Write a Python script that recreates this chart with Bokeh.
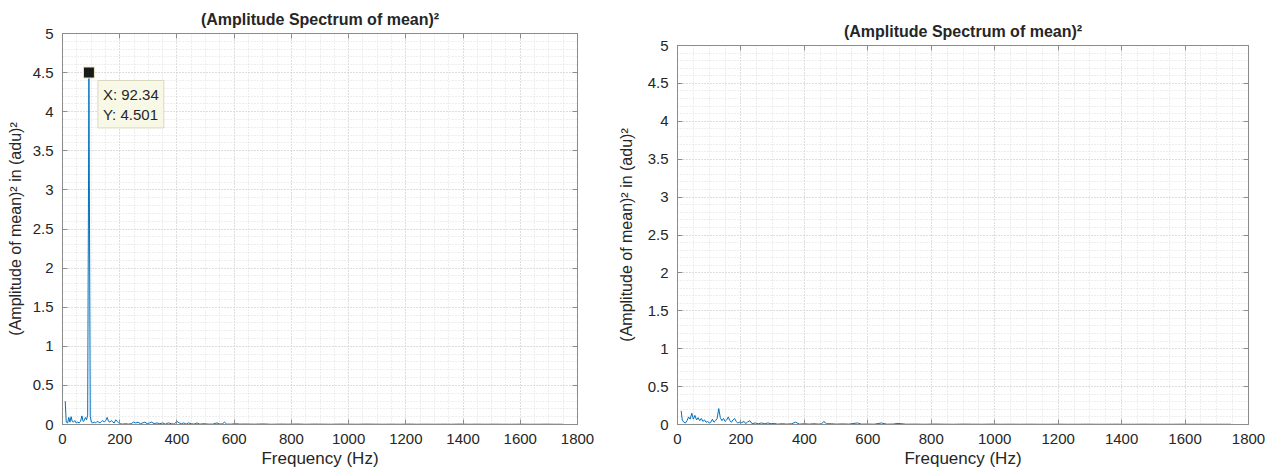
from bokeh.plotting import figure
from bokeh.layouts import row, column
from bokeh.models import (Range1d, SingleIntervalTicker, LinearAxis, Label,
                          CustomJSTickFormatter)
from bokeh.embed import file_html
from bokeh.resources import INLINE

# ---------------- data ----------------
title_text = "(Amplitude Spectrum of mean)\u00b2"
x_label = "Frequency (Hz)"
y_label = "(Amplitude of mean)\u00b2 in (adu)\u00b2"

left_freq = [9.4, 13, 18, 22, 26, 30, 34, 38, 43, 48, 53, 58, 63, 68, 72, 76, 80, 84, 88,
             92.34, 97, 101, 106, 111, 116, 121, 126, 131, 136, 141, 146, 151, 156, 161,
             166, 171, 176, 181, 186, 191, 196, 201, 210, 220, 230, 240, 248, 256, 264,
             272, 280, 288, 296, 304, 312, 320, 330, 340, 350, 360, 370, 380, 390, 400,
             408, 416, 424, 432, 440, 450, 460, 470, 480, 495, 510, 525, 540, 550, 560,
             566, 574, 590, 605, 620, 640, 670, 700, 730, 760, 790, 820, 850, 880, 910,
             940, 970, 1000, 1030, 1060, 1090, 1120, 1150, 1180, 1210, 1240, 1270, 1300,
             1330, 1360, 1390, 1420, 1450, 1480, 1510, 1540, 1570, 1600, 1630, 1660,
             1690, 1720, 1750]
left_amp = [0.30, 0.03, 0.02, 0.09, 0.03, 0.10, 0.04, 0.03, 0.05, 0.02, 0.03, 0.02, 0.04,
            0.11, 0.04, 0.05, 0.09, 0.06, 0.12,
            4.501, 0.10, 0.03, 0.02, 0.03, 0.02, 0.04, 0.03, 0.02, 0.04, 0.05, 0.03, 0.05,
            0.09, 0.04, 0.03, 0.05, 0.03, 0.02, 0.06, 0.04, 0.02, 0.01, 0.005, 0.01, 0.005,
            0.01, 0.03, 0.02, 0.03, 0.01, 0.02, 0.03, 0.01, 0.02, 0.03, 0.01, 0.02, 0.01,
            0.02, 0.005, 0.02, 0.01, 0.005, 0.04, 0.02, 0.01, 0.02, 0.005, 0.02, 0.01,
            0.005, 0.02, 0.005, 0.01, 0.005, 0.005, 0.02, 0.005, 0.01, 0.03, 0.005, 0.005,
            0.01, 0.005, 0.006, 0.004, 0.007, 0.003, 0.005, 0.004, 0.006, 0.003, 0.005,
            0.004, 0.003, 0.005, 0.004, 0.003, 0.005, 0.004, 0.003, 0.004, 0.003, 0.005,
            0.003, 0.004, 0.003, 0.004, 0.003, 0.005, 0.003, 0.004, 0.003, 0.004, 0.003,
            0.003, 0.004, 0.003, 0.003, 0.004, 0.003, 0.003]

right_freq = [11.6, 15, 20, 25, 30, 35, 40, 45, 50, 55, 60, 65, 70, 75, 80, 85, 90, 95, 100,
              105, 110, 115, 120, 125, 130, 135, 140, 145, 150, 155, 160, 165, 170, 175,
              180, 185, 190, 195, 200, 210, 215, 220, 228, 235, 245, 255, 265, 275, 285,
              295, 305, 315, 330, 345, 360, 372, 385, 400, 415, 430, 445, 455, 461, 470,
              485, 500, 520, 540, 567, 580, 600, 620, 643, 660, 680, 695, 720, 750, 780,
              810, 840, 870, 900, 930, 960, 990, 1020, 1050, 1080, 1110, 1140, 1170, 1200,
              1230, 1260, 1290, 1320, 1350, 1380, 1410, 1440, 1470, 1500, 1530, 1560,
              1590, 1620, 1650, 1680, 1710, 1745]
right_amp = [0.18, 0.06, 0.03, 0.02, 0.05, 0.10, 0.07, 0.15, 0.07, 0.12, 0.06, 0.09, 0.05,
             0.08, 0.04, 0.06, 0.03, 0.04, 0.02, 0.03, 0.07, 0.03, 0.05, 0.08, 0.21, 0.09,
             0.05, 0.08, 0.04, 0.06, 0.10, 0.05, 0.03, 0.06, 0.08, 0.04, 0.02, 0.03, 0.02,
             0.04, 0.01, 0.03, 0.05, 0.01, 0.02, 0.01, 0.02, 0.01, 0.02, 0.01, 0.015, 0.005,
             0.01, 0.005, 0.01, 0.03, 0.005, 0.01, 0.005, 0.01, 0.005, 0.01, 0.04, 0.01,
             0.01, 0.005, 0.008, 0.005, 0.02, 0.005, 0.006, 0.004, 0.02, 0.004, 0.006,
             0.015, 0.004, 0.005, 0.003, 0.006, 0.004, 0.003, 0.005, 0.004, 0.003, 0.005,
             0.003, 0.004, 0.003, 0.004, 0.003, 0.003, 0.004, 0.003, 0.003, 0.004, 0.003,
             0.003, 0.004, 0.003, 0.003, 0.004, 0.003, 0.003, 0.003, 0.004, 0.003, 0.003,
             0.003, 0.003, 0.003]

tip_x = 92.34
tip_y = 4.501
tip_text = "X: 92.34\nY: 4.501"

x_min, x_max, x_step = 0, 1800, 200
y_min, y_max, y_step = 0, 5, 0.5

# ---------------- styling ----------------
FONT = "Liberation Sans"
TXT = "#262626"
AX = "#8c8c8c"
LINE = "#0072BD"


def make_fig(width, left, right, top, bottom, ylab_standoff):
    p = figure(width=width, height=471, output_backend="svg", toolbar_location=None,
               x_range=Range1d(x_min, x_max), y_range=Range1d(y_min, y_max),
               min_border_left=left, min_border_right=right,
               min_border_top=top, min_border_bottom=bottom,
               title=title_text, background_fill_color="white",
               border_fill_color="white")
    p.title.align = "center"
    p.title.text_font = FONT
    p.title.text_font_size = "16px"
    p.title.text_font_style = "bold"
    p.title.text_color = TXT
    p.title.standoff = 4
    p.outline_line_color = AX
    p.outline_line_alpha = 1.0

    xt = SingleIntervalTicker(interval=x_step, num_minor_ticks=4)
    yt = SingleIntervalTicker(interval=y_step, num_minor_ticks=5)
    fmt = CustomJSTickFormatter(code="return String(+tick.toFixed(3));")
    blank = CustomJSTickFormatter(code="return '';")

    for ax in p.xaxis + p.yaxis:
        ax.major_label_text_font = FONT
        ax.major_label_text_font_size = "15px"
        ax.major_label_text_color = TXT
        ax.axis_label_text_font = FONT
        ax.axis_label_text_font_size = "16px"
        ax.axis_label_text_font_style = "normal"
        ax.axis_label_text_color = TXT
        ax.axis_line_color = AX
        ax.major_tick_line_color = AX
        ax.major_tick_in = 5
        ax.major_tick_out = 0
        ax.minor_tick_line_color = None
        ax.formatter = fmt
    p.xaxis.ticker = xt
    p.yaxis.ticker = yt
    p.xaxis.axis_label = x_label
    p.yaxis.axis_label = y_label
    p.xaxis.axis_label_text_font_size = "17px"
    p.xaxis.major_label_standoff = 5
    p.xaxis.axis_label_standoff = 2
    p.yaxis.major_label_standoff = 5
    p.yaxis.axis_label_standoff = ylab_standoff

    # box ticks on top / right
    for loc, tick in (("above", xt), ("right", yt)):
        a = LinearAxis(ticker=tick, formatter=blank)
        a.major_label_standoff = 0
        a.axis_line_color = AX
        a.major_tick_line_color = AX
        a.major_tick_in = 5
        a.major_tick_out = 0
        a.minor_tick_line_color = None
        p.add_layout(a, loc)

    p.xgrid.ticker = xt
    p.ygrid.ticker = yt
    for g in (p.xgrid[0], p.ygrid[0]):
        g.grid_line_color = "#cfcfcf"
        g.grid_line_dash = "1 2"
        g.grid_line_alpha = 1.0
        g.minor_grid_line_color = "#dcdcdc"
        g.minor_grid_line_dash = "1 2"
        g.minor_grid_line_alpha = 1.0
    return p


p1 = make_fig(610, 62, 33, 33, 47, 6)
p1.line(left_freq, left_amp, line_color=LINE, line_width=1)
p1.scatter([tip_x], [tip_y], marker="square", size=11, fill_color="#1a1a1a",
           line_color="#e8e8c8", line_width=1)
tip = Label(x=tip_x, y=tip_y, text=tip_text, x_offset=9, y_offset=-8,
            text_align="left", text_baseline="top", text_font=FONT,
            text_font_size="15px", text_color=TXT,
            background_fill_color="#f8f8e6", background_fill_alpha=1.0,
            border_line_color="#d8d8c0", padding=5, text_line_height=1.2)
p1.add_layout(tip)

p2 = make_fig(664, 67, 26, 45, 47, 10)
p2.line(right_freq, right_amp, line_color=LINE, line_width=1)

layout = row(column(p1), column(p2))
open("out.html", "w").write(file_html(layout, INLINE))
